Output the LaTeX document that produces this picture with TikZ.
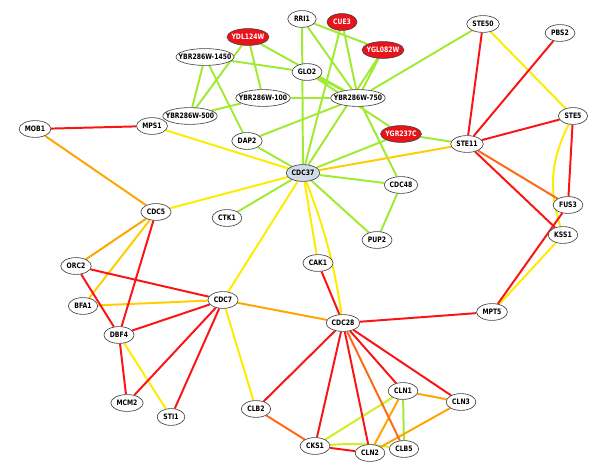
\documentclass[tikz,border=0pt]{standalone}
\usepackage{fontspec}
\setmainfont{DejaVu Sans}[FakeStretch=0.82]
\usepackage{tikz}
\usetikzlibrary{shapes.geometric,backgrounds}
\definecolor{linkG}{RGB}{160,235,50}
\definecolor{linkYG}{RGB}{205,240,30}
\definecolor{linkY}{RGB}{255,235,0}
\definecolor{linkGold}{RGB}{255,205,0}
\definecolor{linkO}{RGB}{255,165,0}
\definecolor{linkDO}{RGB}{255,105,20}
\definecolor{linkR}{RGB}{250,20,20}
\definecolor{hitred}{RGB}{232,20,25}
\definecolor{hubgrey}{RGB}{210,220,232}
\newcommand{\glab}[1]{\makebox[0.57\width]{#1}}

\begin{document}
\begin{tikzpicture}[x=0.025cm,y=-0.025cm,
                  font=\fontsize{5.3}{6}\selectfont\bfseries,
                  gene/.style={ellipse,draw=black!75,line width=0.45pt,fill=white,inner xsep=3.9pt,inner ysep=0pt,minimum height=0.42cm},
                  hit/.style={gene,fill=hitred,text=white},
                  hub/.style={gene,fill=hubgrey},
                  lk/.style={line width=1.4pt}
                ]
                \useasboundingbox (0,0) rectangle (600,465);
                % upper cluster
                \node[hit] (ydl) at (248,37) {\glab{YDL124W}};
                \node[gene] (rri) at (302,19) {\glab{RRI1}};
                \node[hit] (cue) at (342,22) {\glab{CUE3}};
                \node[hit] (ygl) at (383,50) {\glab{YGL082W}};
                \node[gene] (y1450) at (205,57) {\glab{YBR286W-1450}};
                \node[gene] (glo) at (307,72) {\glab{GLO2}};
                \node[gene] (y100) at (263,98) {\glab{YBR286W-100}};
                \node[gene] (y750) at (358,98) {\glab{YBR286W-750}};
                \node[gene] (y500) at (190,116) {\glab{YBR286W-500}};
                \node[gene] (mob) at (35,129) {\glab{MOB1}};
                \node[gene] (mps) at (152,126) {\glab{MPS1}};
                \node[gene] (dap) at (247,141) {\glab{DAP2}};
                \node[hit] (ygr) at (401,134) {\glab{YGR237C}};
                \node[hub] (cdc37) at (303,173) {\glab{CDC37}};
                \node[gene] (cdc48) at (401,185) {\glab{CDC48}};
                \node[gene] (ctk) at (227,218) {\glab{CTK1}};
                \node[gene] (pup) at (377,240) {\glab{PUP2}};
                % pheromone pathway
                \node[gene] (ste50) at (483,24) {\glab{STE50}};
                \node[gene] (pbs) at (560,33) {\glab{PBS2}};
                \node[gene] (ste5) at (573,116) {\glab{STE5}};
                \node[gene] (ste11) at (467,144) {\glab{STE11}};
                \node[gene] (fus) at (568,205) {\glab{FUS3}};
                \node[gene] (kss) at (563,235) {\glab{KSS1}};
                \node[gene] (mpt) at (492,312) {\glab{MPT5}};
                % cell cycle
                \node[gene] (cdc5) at (156,212) {\glab{CDC5}};
                \node[gene] (orc) at (76,266) {\glab{ORC2}};
                \node[gene] (bfa) at (83,306) {\glab{BFA1}};
                \node[gene] (cdc7) at (223,300) {\glab{CDC7}};
                \node[gene] (dbf) at (119,335) {\glab{DBF4}};
                \node[gene] (mcm) at (127,403) {\glab{MCM2}};
                \node[gene] (sti) at (171,417) {\glab{STI1}};
                \node[gene] (cak) at (318,263) {\glab{CAK1}};
                \node[gene] (cdc28) at (343,323) {\glab{CDC28}};
                \node[gene] (clb2) at (256,409) {\glab{CLB2}};
                \node[gene] (cln1) at (403,391) {\glab{CLN1}};
                \node[gene] (cln3) at (461,402) {\glab{CLN3}};
                \node[gene] (cks) at (315,446) {\glab{CKS1}};
                \node[gene] (cln2) at (370,453) {\glab{CLN2}};
                \node[gene] (clb5) at (404,449) {\glab{CLB5}};

                \begin{scope}[on background layer]
                \draw[lk,linkG] (ydl)--(y500) (ydl)--(y100) (ydl)--(y750) (y1450)--(glo) (y1450)--(y500) (y1450)--(dap)
                  (y100)--(y500) (y100)--(y750) (rri)--(y750) (rri)--(cdc37) (rri)--(ygl) (cue)--(y750) (cue)--(cdc37)
                  (ygl)--(y750) (ygl)--(cdc37) (ste50)--(y750) (y750)--(dap) (y750)--(cdc48) (glo)--(y750) (glo)--(ygr)
                  (ygr)--(cdc37) (ygr)--(ste11) (dap)--(cdc37) (cdc37)--(cdc48) (cdc37)--(pup) (cdc37)--(ctk) (cdc48)--(pup)
                  (cln1)--(clb5);
                \draw[lk,linkYG] (cln1)--(cks) (cks) to[bend left=6] (clb5);
                \draw[lk,linkY] (mps)--(cdc37) (cdc5)--(cdc37) (cdc37)--(cdc7) (cdc37)--(cak) (cdc37) to[bend left=6] (cdc28)
                  (ste50)--(ste5) (ste5) to[bend right=22] (kss) (kss)--(mpt) (dbf)--(sti) (cdc7)--(clb2);
                \draw[lk,linkGold] (cdc37)--(ste11) (cdc5)--(bfa) (bfa)--(cdc7);
                \draw[lk,linkO] (mob)--(cdc5) (cdc5)--(orc) (cdc7)--(cdc28) (cln1)--(cln3) (cln1)--(cln2) (cln3)--(cln2);
                \draw[lk,linkDO] (clb2)--(cks) (ste11)--(fus) (cdc28)--(clb5);
                \draw[lk,linkR] (mob)--(mps) (ste50)--(ste11) (pbs)--(ste11) (ste5)--(ste11) (ste5)--(fus) (ste11)--(kss)
                  (fus)--(mpt) (cdc5)--(dbf) (orc)--(cdc7) (orc)--(dbf) (cdc7)--(dbf) (cdc7)--(mcm) (cdc7)--(sti)
                  (dbf)--(mcm) (cak)--(cdc28) (cdc28)--(mpt) (cdc28)--(clb2) (cdc28)--(cks) (cdc28)--(cln2)
                  (cdc28)--(cln1) (cdc28)--(cln3) (cks)--(cln2);
                \end{scope}
\end{tikzpicture}
\end{document}
